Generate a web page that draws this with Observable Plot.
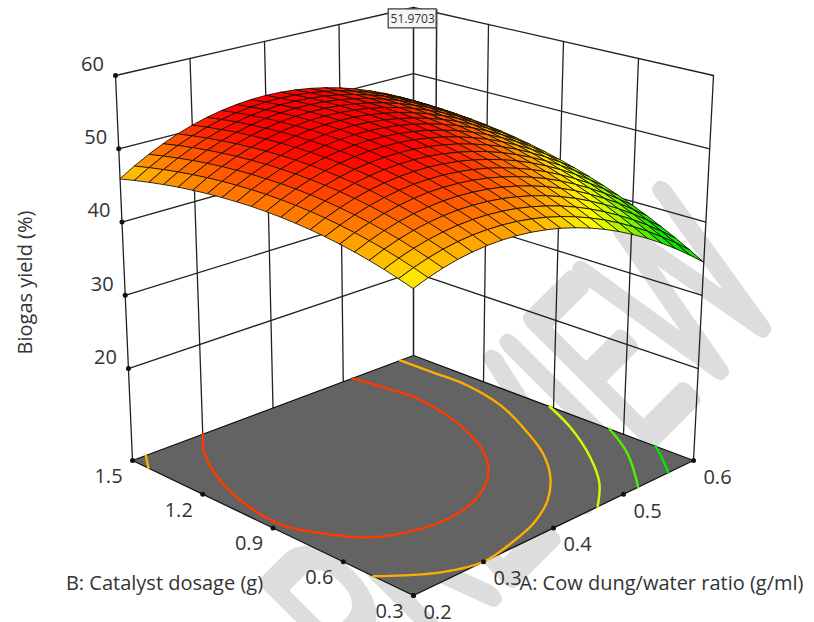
<!DOCTYPE html>
<html><head><meta charset="utf-8">
<script src="https://cdn.jsdelivr.net/npm/d3@7"></script>
<script src="https://cdn.jsdelivr.net/npm/@observablehq/plot@0.6"></script>
<style>html,body{margin:0;padding:0;background:#fff}svg{display:block}</style>
</head><body><div id="chart"></div>
<script>
const aTicks=[0.2,0.3,0.4,0.5,0.6], bTicks=[0.3,0.6,0.9,1.2,1.5], zTicks=[20,30,40,50,60];
// Biogas yield read from the surface: one row per catalyst dosage (B 0.3 .. 1.5), one column per ratio (A 0.2 .. 0.6)
const yieldRows=[
[44.87,45.55,46.12,46.55,46.86,47.04,47.09,47.02,46.82,46.49,46.04,45.45,44.75,43.91,42.95,41.86,40.64,39.30,37.83,36.23,34.51],
[45.45,46.17,46.76,47.22,47.55,47.76,47.83,47.79,47.61,47.31,46.88,46.33,45.64,44.83,43.90,42.83,41.64,40.33,38.88,37.31,35.61],
[45.99,46.73,47.34,47.82,48.18,48.42,48.52,48.50,48.35,48.08,47.67,47.14,46.49,45.70,44.79,43.75,42.59,41.30,39.88,38.33,36.66],
[46.46,47.23,47.87,48.38,48.76,49.02,49.15,49.16,49.03,48.78,48.41,47.90,47.27,46.51,45.63,44.62,43.48,42.21,40.82,39.30,37.65],
[46.88,47.67,48.34,48.88,49.29,49.57,49.73,49.76,49.66,49.44,49.09,48.61,48.00,47.27,46.41,45.43,44.31,43.07,41.71,40.21,38.59],
[47.24,48.06,48.75,49.32,49.75,50.06,50.25,50.30,50.23,50.03,49.71,49.25,48.68,47.97,47.14,46.18,45.09,43.88,42.54,41.07,39.47],
[47.55,48.39,49.11,49.70,50.16,50.50,50.71,50.79,50.74,50.57,50.27,49.85,49.29,48.61,47.81,46.87,45.81,44.62,43.31,41.87,40.30],
[47.80,48.67,49.41,50.03,50.52,50.88,51.11,51.22,51.20,51.05,50.78,50.38,49.85,49.20,48.42,47.51,46.48,45.31,44.02,42.61,41.06],
[47.99,48.89,49.66,50.30,50.81,51.20,51.46,51.59,51.60,51.48,51.23,50.86,50.36,49.73,48.98,48.09,47.08,45.95,44.68,43.29,41.78],
[48.13,49.05,49.85,50.51,51.05,51.47,51.75,51.91,51.95,51.85,51.63,51.28,50.81,50.20,49.47,48.62,47.64,46.52,45.29,43.92,42.43],
[48.21,49.16,49.98,50.67,51.24,51.68,51.99,52.18,52.23,52.17,51.97,51.65,51.20,50.62,49.92,49.09,48.13,47.05,45.83,44.50,43.03],
[48.24,49.21,50.06,50.77,51.37,51.83,52.17,52.38,52.47,52.42,52.25,51.96,51.53,50.98,50.31,49.50,48.57,47.51,46.33,45.01,43.57],
[48.20,49.20,50.07,50.82,51.44,51.93,52.29,52.53,52.64,52.62,52.48,52.21,51.81,51.29,50.64,49.86,48.95,47.92,46.76,45.47,44.06],
[48.11,49.14,50.04,50.81,51.45,51.97,52.36,52.62,52.76,52.77,52.65,52.41,52.03,51.54,50.91,50.16,49.28,48.27,47.14,45.88,44.49],
[47.97,49.02,49.94,50.74,51.41,51.95,52.37,52.66,52.82,52.86,52.77,52.55,52.20,51.73,51.13,50.40,49.55,48.57,47.46,46.22,44.86],
[47.77,48.85,49.80,50.62,51.31,51.88,52.33,52.64,52.83,52.89,52.82,52.63,52.31,51.86,51.29,50.59,49.76,48.80,47.72,46.51,45.18],
[47.51,48.61,49.59,50.44,51.16,51.75,52.22,52.56,52.78,52.86,52.82,52.66,52.36,51.94,51.39,50.72,49.92,48.99,47.93,46.75,45.44],
[47.20,48.32,49.33,50.20,50.95,51.57,52.06,52.43,52.67,52.78,52.77,52.63,52.36,51.96,51.44,50.79,50.02,49.11,48.08,46.93,45.64],
[46.83,47.98,49.01,49.91,50.68,51.33,51.85,52.24,52.51,52.65,52.66,52.54,52.30,51.93,51.43,50.81,50.06,49.18,48.18,47.05,45.79],
[46.40,47.58,48.63,49.56,50.36,51.03,51.58,52.00,52.29,52.45,52.49,52.40,52.18,51.84,51.37,50.77,50.05,49.20,48.22,47.11,45.88],
[45.92,47.12,48.20,49.15,49.98,50.68,51.25,51.69,52.01,52.20,52.27,52.20,52.01,51.69,51.25,50.68,49.98,49.15,48.20,47.12,45.92]];
// Contour lines on the floor, read as (A, B) pairs, with the yield level of each
const redA=[.300,.270,.239,.215,.212,.226,.255,.299,.346,.397,.449,.482,.510,.523,.520,.513];
const redB=[1.5,1.403,1.253,1.042,.890,.788,.661,.596,.578,.616,.724,.857,1.057,1.252,1.370,1.5];
const orangeA=[.581,.582,.582,.569,.542,.514,.479,.440,.394,.347,.300,.254,.200];
const orangeB=[1.5,1.361,1.215,1.033,.845,.686,.550,.445,.367,.324,.300,.345,.471];
const orangeCornerA=[.219,.200], orangeCornerB=[1.5,1.432];
const yellowA=[.6,.577,.539,.502,.463], yellowB=[.917,.758,.559,.409,.3];
const limeA=[.6,.57,.521], limeB=[.66,.493,.3];
const greenA=[.6,.581,.564], greenB=[.463,.373,.3];
const contourLines=[[50.4,redA,redB],[47.1,orangeA,orangeB],[47.1,orangeCornerA,orangeCornerB],[43.7,yellowA,yellowB],[40.4,limeA,limeB],[37.1,greenA,greenB]];
const flagA=.466, flagB=1.008, flagValue=51.9703, flagPlotZ=51.97, flagTopZ=67.2;

const N=yieldRows.length;
const floorZ=7.45;
const corners={fl:[[413,595],[693,460],[413,355],[132,460]],tp:[[413,163.6],[713,75],[413,7],[115,75]]};
function proj(u,v,z){const s=(u+1)/2,t=(v+1)/2,h=(z-floorZ)/(60-floorZ);
  const bl=c=>[0,1].map(k=>c[0][k]*(1-s)*(1-t)+c[1][k]*s*(1-t)+c[2][k]*s*t+c[3][k]*(1-s)*t);
  const a=bl(corners.fl),b=bl(corners.tp);
  return {x:a[0]+h*(b[0]-a[0]),y:a[1]+h*(b[1]-a[1]),g:u+v};}
const uOf=A=>(A-.4)/.2, vOf=B=>(B-.9)/.6;
const P=(A,B,z)=>proj(uOf(A),vOf(B),z===null?floorZ:z);
const seg=(a,b)=>({x1:a.x,y1:a.y,x2:b.x,y2:b.y});
const walls=[];
for(const z of zTicks){walls.push(seg(P(.2,1.5,z),P(.6,1.5,z)),seg(P(.6,1.5,z),P(.6,.3,z)));}
for(const A of aTicks)walls.push(seg(P(A,1.5,null),P(A,1.5,60)));
for(const B of bTicks)walls.push(seg(P(.6,B,null),P(.6,B,60)));
const floorPoly=[P(.2,.3,null),P(.6,.3,null),P(.6,1.5,null),P(.2,1.5,null)];
const cells=[];
for(let j=0;j<N-1;j++)for(let i=0;i<N-1;i++){
  const pts=[[i,j],[i+1,j],[i+1,j+1],[i,j+1]];
  const val=d3.mean(pts,([a,b])=>yieldRows[b][a]);
  const q=pts.map(([a,b])=>proj(a/10-1,b/10-1,yieldRows[b][a]));
  cells.push({id:i+"_"+j,val,q,depth:d3.mean(q,d=>d.g)});
}
cells.sort((a,b)=>b.depth-a.depth);
const cellPts=cells.flatMap(c=>c.q.map(p=>({x:p.x,y:p.y,id:c.id,val:c.val})));
const contourPts=contourLines.flatMap(([L,As,Bs],k)=>As.map((A,i)=>({...P(A,Bs[i],null),L,k})));
const zDots=zTicks.map(z=>({...P(.2,1.5,z),t:String(z)}));
const bDots=bTicks.map(B=>({...P(.2,B,null),t:B.toFixed(1)}));
const aDots=aTicks.map(A=>({...P(A,.3,null),t:A.toFixed(1)}));
const flagBase=P(flagA,flagB,flagPlotZ), flagTop=P(flagA,flagB,flagTopZ);
const font="'Open Sans'";
const plot=Plot.plot({width:814,height:622,margin:0,style:{background:"#fff",fontFamily:font},
 x:{type:"identity",axis:null},y:{type:"identity",axis:null},
 color:{type:"linear",domain:[38.5,44.8,52],range:["#00e800","#ffff00","#ff0000"],clamp:true,interpolate:"rgb"},
 marks:[
  Plot.text(["PREVIEW"],{className:"wm",x:()=>783,y:()=>303,text:d=>d,rotate:-45,fontSize:231,fontFamily:"Roboto",fontWeight:100,fill:"none",stroke:"#dddddd",strokeWidth:19,strokeLinejoin:"round",textAnchor:"end",lineAnchor:"bottom"}),
  Plot.line(walls.flatMap((s,i)=>[{x:s.x1,y:s.y1,i},{x:s.x2,y:s.y2,i}]),{x:"x",y:"y",z:"i",stroke:"#222",strokeWidth:1.3}),
  Plot.line(floorPoly,{x:"x",y:"y",fill:"#636363",stroke:"#111",strokeWidth:1.3,curve:"linear-closed"}),
  Plot.line(contourPts,{x:"x",y:"y",z:"k",stroke:"L",strokeWidth:2.4,curve:"catmull-rom"}),
  Plot.dot(zDots,{x:"x",y:"y",r:2.5,fill:"#111"}),
  Plot.dot(bDots,{x:"x",y:"y",r:2.5,fill:"#111"}),
  Plot.dot(aDots,{x:"x",y:"y",r:2.5,fill:"#111"}),
  Plot.text(zDots,{x:"x",y:"y",text:"t",dx:-23,dy:-11,fontSize:20,fill:"#333"}),
  Plot.text(bDots,{x:"x",y:"y",text:"t",dx:-24,dy:16,fontSize:20,fill:"#333"}),
  Plot.text(aDots,{x:"x",y:"y",text:"t",dx:24,dy:17,fontSize:20,fill:"#333"}),
  Plot.line(cellPts,{x:"x",y:"y",z:"id",fill:"val",stroke:"#1a0d00",strokeWidth:.9,curve:"linear-closed"}),
  Plot.link([seg(flagBase,flagTop)],{x1:"x1",y1:"y1",x2:"x2",y2:"y2",stroke:"#222",strokeWidth:1.5}),
  Plot.rect([flagTop],{x1:d=>d.x-48,x2:"x",y1:"y",y2:d=>d.y+19,fill:"#f5f5f5",stroke:"#444",strokeWidth:1.3}),
  Plot.text([flagTop],{x:d=>d.x-24,y:d=>d.y+10,text:()=>String(flagValue),fontSize:12,fill:"#333"}),
  Plot.text(["Biogas yield (%)"],{x:()=>25,y:()=>282,text:d=>d,rotate:-90,fontSize:20,fill:"#333"}),
  Plot.text(["B: Catalyst dosage (g)"],{x:()=>164,y:()=>583,text:d=>d,fontSize:20,fill:"#333"}),
  Plot.text(["A: Cow dung/water ratio (g/ml)"],{x:()=>661,y:()=>583,text:d=>d,fontSize:20,fill:"#333"})
 ]});
const wm=plot.querySelector(".wm text");
if(wm){wm.setAttribute("transform",wm.getAttribute("transform")+" scale(.6,1)");wm.style.vectorEffect="non-scaling-stroke";}
document.getElementById("chart").append(plot);
</script></body></html>
